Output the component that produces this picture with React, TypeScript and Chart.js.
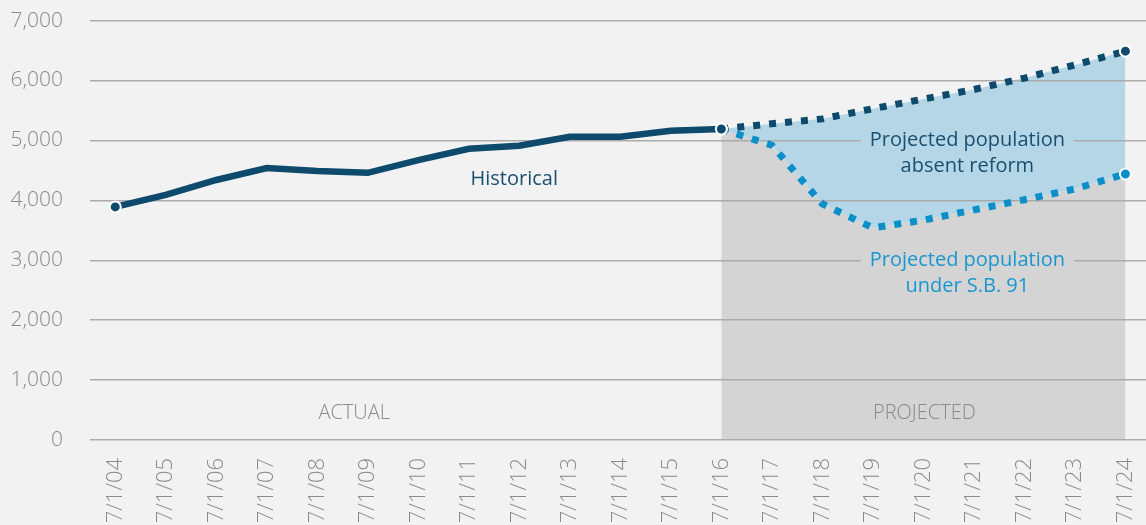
import React, { useEffect, useRef } from "react";
import { Chart, registerables } from "chart.js";

Chart.register(...registerables);

const categories = [
  "7/1/04", "7/1/05", "7/1/06", "7/1/07", "7/1/08", "7/1/09", "7/1/10",
  "7/1/11", "7/1/12", "7/1/13", "7/1/14", "7/1/15", "7/1/16", "7/1/17",
  "7/1/18", "7/1/19", "7/1/20", "7/1/21", "7/1/22", "7/1/23", "7/1/24",
];

const historical = [
  3890, 4090, 4340, 4540, 4490, 4460, 4670, 4860, 4910, 5060, 5060, 5160, 5190,
  null, null, null, null, null, null, null, null,
];

const absentReform = [
  null, null, null, null, null, null, null, null, null, null, null, null,
  5190, 5280, 5360, 5530, 5690, 5850, 6040, 6260, 6490,
];

const underSB91 = [
  null, null, null, null, null, null, null, null, null, null, null, null,
  5190, 4920, 3940, 3540, 3670, 3840, 4010, 4190, 4440,
];

const yTicks = [0, 1000, 2000, 3000, 4000, 5000, 6000, 7000];

// annotation anchors in data coordinates: [category index, value]
const historicalLabel = { text: ["Historical"], at: [7.9, 4350] };
const absentLabel = { text: ["Projected population", "absent reform"], at: [16.87, 5000] };
const sbLabel = { text: ["Projected population", "under S.B. 91"], at: [16.87, 2995] };
const actualLabel = { text: ["ACTUAL"], at: [4.73, 450] };
const projectedLabel = { text: ["PROJECTED"], at: [16.02, 450] };

const BG = "#f2f2f2";
const DARK = "#0d4a6b";
const BLUE = "#0b8fc8";
const BLUE_FILL = "#b4d6e6";
const GRAY_FILL = "#d4d4d4";
const FONT = "'Open Sans', 'DejaVu Sans', sans-serif";

function pointRadii(arr: (number | null)[]) {
  let first = -1;
  let last = -1;
  arr.forEach((v, i) => {
    if (v !== null) {
      if (first < 0) first = i;
      last = i;
    }
  });
  return arr.map((_, i) => (i === first || i === last ? 5.5 : 0));
}

const annotationPlugin = {
  id: "annotations",
  afterDatasetsDraw(chart: any) {
    const { ctx, scales } = chart;
    const x = scales.x;
    const y = scales.y;
    const draw = (
      lab: { text: string[]; at: number[] },
      color: string,
      weight: number,
      size: number,
      box: string | null
    ) => {
      const cx = x.getPixelForValue(lab.at[0]);
      const cy = y.getPixelForValue(lab.at[1]);
      const lh = 25.5;
      ctx.save();
      ctx.font = `${weight} ${size}px ${FONT}`;
      ctx.textAlign = "center";
      ctx.textBaseline = "middle";
      if (box) {
        const w = Math.max(...lab.text.map((t) => ctx.measureText(t).width)) + 18;
        const h = lh * lab.text.length + 4;
        ctx.fillStyle = box;
        ctx.fillRect(cx - w / 2, cy - lh / 2 - 2, w, h);
      }
      ctx.fillStyle = color;
      lab.text.forEach((t, i) => ctx.fillText(t, cx, cy + i * lh));
      ctx.restore();
    };
    draw(historicalLabel, "#1b4f70", 400, 20, null);
    draw(absentLabel, "#1b4f70", 400, 20, BLUE_FILL);
    draw(sbLabel, "#1a97cf", 400, 20, GRAY_FILL);
    draw(actualLabel, "#8a8a8a", 300, 20, null);
    draw(projectedLabel, "#8a8a8a", 300, 20, null);
  },
};

export default function App() {
  const ref = useRef<HTMLCanvasElement | null>(null);

  useEffect(() => {
    document.body.style.margin = "0";
    document.body.style.background = BG;
    const canvas = ref.current;
    if (!canvas) return;
    const chart = new Chart(canvas, {
      type: "line",
      data: {
        labels: categories,
        datasets: [
          {
            label: "Historical",
            data: historical,
            borderColor: DARK,
            borderWidth: 6.5,
            pointRadius: pointRadii(historical),
            pointBackgroundColor: DARK,
            pointBorderColor: "#ffffff",
            pointBorderWidth: 2,
            fill: false,
            tension: 0,
          },
          {
            label: "Projected population absent reform",
            data: absentReform,
            borderColor: DARK,
            borderWidth: 7,
            borderDash: [7, 9],
            pointRadius: pointRadii(absentReform),
            pointBackgroundColor: DARK,
            pointBorderColor: "#ffffff",
            pointBorderWidth: 2,
            backgroundColor: BLUE_FILL,
            fill: "+1",
            tension: 0,
          },
          {
            label: "Projected population under S.B. 91",
            data: underSB91,
            borderColor: BLUE,
            borderWidth: 7,
            borderDash: [7, 9],
            pointRadius: underSB91.map((v, i) => (i === underSB91.length - 1 ? 5.5 : 0)),
            pointBackgroundColor: BLUE,
            pointBorderColor: "#ffffff",
            pointBorderWidth: 2,
            backgroundColor: GRAY_FILL,
            fill: "origin",
            tension: 0,
          },
        ],
      },
      options: {
        responsive: false,
        animation: false,
        layout: { padding: { top: 2, left: 0, right: 0, bottom: 0 } },
        plugins: {
          legend: { display: false },
          tooltip: { enabled: false },
          filler: { drawTime: "beforeDraw" },
        },
        scales: {
          x: {
            type: "category",
            offset: true,
            grid: { display: false, drawTicks: false },
            border: { display: false },
            ticks: {
              minRotation: 90,
              maxRotation: 90,
              autoSkip: false,
              padding: 18,
              color: "#8a8a8a",
              font: { family: FONT, size: 22, weight: 300 },
            },
            afterFit: (s: any) => {
              s.height = 85;
            },
          },
          y: {
            min: 0,
            max: 7000,
            afterBuildTicks: (s: any) => {
              s.ticks = yTicks.map((v) => ({ value: v }));
            },
            grid: { color: "#ababab", lineWidth: 1.5, drawTicks: false },
            border: { display: false },
            ticks: {
              padding: 27,
              color: "#8a8a8a",
              font: { family: FONT, size: 21, weight: 300 },
              callback: (v: any) => Number(v).toLocaleString("en-US"),
            },
            afterFit: (s: any) => {
              s.width = 90;
            },
          },
        },
      },
      plugins: [annotationPlugin],
    });
    return () => chart.destroy();
  }, []);

  return (
    <div
      style={{
        position: "absolute",
        left: 0,
        top: 0,
        width: 1146,
        height: 525,
        overflow: "hidden",
        background: BG,
      }}
    >
      <canvas
        ref={ref}
        width={1170}
        height={544}
        style={{ display: "block", position: "absolute", left: 0, top: -19 }}
      />
    </div>
  );
}
